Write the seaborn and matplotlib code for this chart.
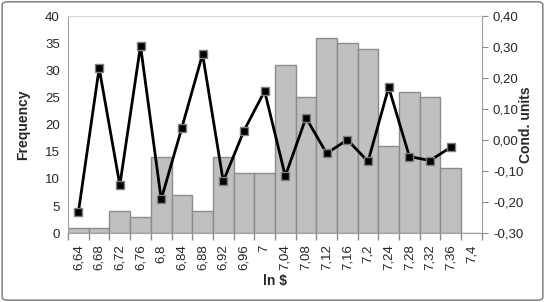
import numpy as np
import pandas as pd
import matplotlib
matplotlib.use("Agg")
import matplotlib.pyplot as plt
from matplotlib.patches import FancyBboxPatch
import seaborn as sns

# bins (ln $) and histogram counts
bins = ['6,64', '6,68', '6,72', '6,76', '6,8', '6,84', '6,88', '6,92', '6,96', '7',
        '7,04', '7,08', '7,12', '7,16', '7,2', '7,24', '7,28', '7,32', '7,36', '7,4']
freq = [1, 1, 4, 3, 14, 7, 4, 14, 11, 11, 31, 25, 36, 35, 34, 16, 26, 25, 12, 0]
# conditional units (secondary axis), one per bin up to 7,36
cond = [-0.231, 0.232, -0.145, 0.304, -0.191, 0.040, 0.277, -0.133, 0.030, 0.158,
        -0.116, 0.072, -0.043, 0.001, -0.069, 0.170, -0.053, -0.066, -0.023]

sns.set_style("white")
plt.rcParams['font.family'] = ['Liberation Sans', 'DejaVu Sans']

df = pd.DataFrame({'bin': bins, 'freq': freq})
line_df = pd.DataFrame({'pos': np.arange(len(cond)), 'cond': cond})

fig = plt.figure(figsize=(5.45, 3.02), dpi=100)
ax = fig.add_axes([0.125, 0.228, 0.759, 0.719])

sns.barplot(data=df, x='bin', y='freq', ax=ax, color='#C0C0C0', width=1.0,
            edgecolor='#8C8C8C', linewidth=1.0, saturation=1)
ax.set_xlim(-0.5, len(bins) - 0.5)
ax.set_ylim(0, 40)
ax.set_yticks(range(0, 41, 5))
ax.tick_params(axis='y', labelsize=9.5, length=0, pad=6)
ax.set_xticks(np.arange(len(bins)))
ax.set_xticklabels(bins, rotation=90, fontsize=9.5)
ax.tick_params(axis='x', which='major', length=0, pad=8)
ax.set_xticks(np.arange(len(bins) + 1) - 0.5, minor=True)
ax.tick_params(axis='x', which='minor', length=5, color='#8C8C8C', width=1, bottom=True)
ax.set_xlabel('ln $', fontsize=10, fontweight='bold', labelpad=3)
ax.set_ylabel('Frequency', fontsize=10, fontweight='bold', va='center', ha='center')
ax.yaxis.set_label_coords(-0.108, 0.5)
for s in ax.spines.values():
    s.set_color('#A0A0A0')
ax.spines['top'].set_color('#D8D8D8')

ax2 = ax.twinx()
sns.lineplot(data=line_df, x='pos', y='cond', ax=ax2, color='black', linewidth=2,
             marker='s', markersize=6, markerfacecolor='black',
             markeredgecolor='#808080', markeredgewidth=1)
ax2.set_xlim(-0.5, len(bins) - 0.5)
ax2.set_ylim(-0.3, 0.4)
ax2.set_yticks(np.arange(-0.3, 0.41, 0.1))
ax2.set_yticklabels([f'{v:.2f}'.replace('.', ',').replace('-0,00', '0,00')
                     for v in np.arange(-0.3, 0.41, 0.1)], fontsize=9.5)
ax2.tick_params(axis='y', length=4, color='#8C8C8C', pad=4, right=True)
ax2.set_ylabel('Cond. units', fontsize=10, fontweight='bold', rotation=90,
               va='center', ha='center')
ax2.yaxis.set_label_coords(1.106, 0.5)
for s in ax2.spines.values():
    s.set_visible(False)

fig.patches.append(FancyBboxPatch((0.004, 0.006), 0.992, 0.988,
                                  boxstyle='round,pad=0,rounding_size=0.01',
                                  transform=fig.transFigure, fill=False,
                                  edgecolor='#8A8A8A', linewidth=1.2))

fig.savefig('out.png', dpi=100)
